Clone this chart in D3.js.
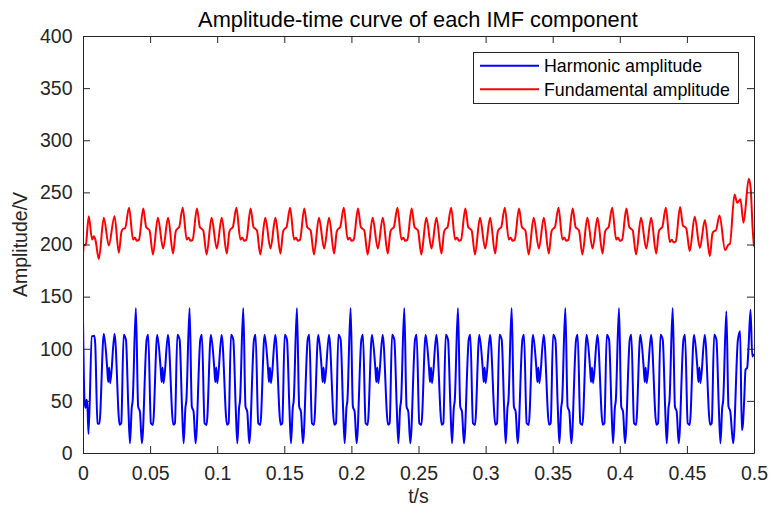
<!DOCTYPE html>
<html>
<head>
<meta charset="utf-8">
<script src="https://cdn.jsdelivr.net/npm/d3@7"></script>
<style>
  html, body { margin: 0; padding: 0; background: #fff; }
  svg { display: block; font-family: "Liberation Sans", Arial, sans-serif; }
</style>
</head>
<body>
<svg id="chart" width="770" height="511"></svg>
<script>
  // ============================================================
  // Data
  // ============================================================

  const xTicks = [0, 0.05, 0.1, 0.15, 0.2, 0.25, 0.3, 0.35, 0.4, 0.45, 0.5];
  const xTickLabels = ["0", "0.05", "0.1", "0.15", "0.2", "0.25", "0.3", "0.35", "0.4", "0.45", "0.5"];
  const yTicks = [0, 50, 100, 150, 200, 250, 300, 350, 400];
  const yTickLabels = ["0", "50", "100", "150", "200", "250", "300", "350", "400"];
  const seriesNames = ["Harmonic amplitude", "Fundamental amplitude"];

  // [t (s), amplitude (V)] at the turning points of each curve
  const harmonic = [
    [0,128.5],[0.0011,51],[0.0019,43.3],[0.0027,51],[0.0034,43],[0.0041,18.3],[0.0066,111.9],[0.0084,112.5],[0.0091,105],[0.0108,28.5],[0.0122,28],[0.0155,114.5],[0.0180,82],[0.0188,68],[0.0195,82],[0.0203,67],[0.0235,114.5],[0.0273,27],[0.0285,28.5],[0.0303,113.5],[0.0320,108.6],[0.0338,43.3],[0.0350,9.3],[0.0363,43.3],[0.0370,50],
    [0.0394,139],[0.0411,44.5],[0.0424,39.7],[0.0439,9.3],[0.0474,108.6],[0.0486,113.5],[0.0506,28.5],[0.0521,26.9],[0.0553,113.5],[0.0578,82],[0.0586,68],[0.0593,82],[0.0601,67],[0.0633,113.5],[0.0673,27],[0.0685,28.5],[0.0703,113.5],[0.0720,108.6],[0.0738,43.3],[0.0750,9.3],[0.0763,43.3],[0.0770,50],
    [0.0794,139],[0.0811,44.5],[0.0824,39.7],[0.0839,9.3],[0.0874,108.6],[0.0886,113.5],[0.0906,28.5],[0.0921,26.9],[0.0953,113.5],[0.0978,82],[0.0986,68],[0.0993,82],[0.1001,67],[0.1033,113.5],[0.1073,27],[0.1085,28.5],[0.1103,113.5],[0.1120,108.6],[0.1138,43.3],[0.1150,9.3],[0.1163,43.3],[0.1170,50],
    [0.1194,139],[0.1211,44.5],[0.1224,39.7],[0.1239,9.3],[0.1274,108.6],[0.1286,113.5],[0.1306,28.5],[0.1321,26.9],[0.1353,113.5],[0.1378,82],[0.1386,68],[0.1393,82],[0.1401,67],[0.1433,113.5],[0.1473,27],[0.1485,28.5],[0.1503,113.5],[0.1520,108.6],[0.1538,43.3],[0.1550,9.3],[0.1563,43.3],[0.1570,50],
    [0.1594,139],[0.1611,44.5],[0.1624,39.7],[0.1639,9.3],[0.1674,108.6],[0.1686,113.5],[0.1706,28.5],[0.1721,26.9],[0.1753,113.5],[0.1778,82],[0.1786,68],[0.1793,82],[0.1801,67],[0.1833,113.5],[0.1873,27],[0.1885,28.5],[0.1903,113.5],[0.1920,108.6],[0.1938,43.3],[0.1950,9.3],[0.1963,43.3],[0.1970,50],
    [0.1994,139],[0.2011,44.5],[0.2024,39.7],[0.2039,9.3],[0.2074,108.6],[0.2086,113.5],[0.2106,28.5],[0.2121,26.9],[0.2153,113.5],[0.2178,82],[0.2186,68],[0.2193,82],[0.2201,67],[0.2233,113.5],[0.2273,27],[0.2285,28.5],[0.2303,113.5],[0.2320,108.6],[0.2338,43.3],[0.2350,9.3],[0.2363,43.3],[0.2370,50],
    [0.2394,139],[0.2411,44.5],[0.2424,39.7],[0.2439,9.3],[0.2474,108.6],[0.2486,113.5],[0.2506,28.5],[0.2521,26.9],[0.2553,113.5],[0.2578,82],[0.2586,68],[0.2593,82],[0.2601,67],[0.2633,113.5],[0.2673,27],[0.2685,28.5],[0.2703,113.5],[0.2720,108.6],[0.2738,43.3],[0.2750,9.3],[0.2763,43.3],[0.2770,50],
    [0.2794,139],[0.2811,44.5],[0.2824,39.7],[0.2839,9.3],[0.2874,108.6],[0.2886,113.5],[0.2906,28.5],[0.2921,26.9],[0.2953,113.5],[0.2978,82],[0.2986,68],[0.2993,82],[0.3001,67],[0.3033,113.5],[0.3073,27],[0.3085,28.5],[0.3103,113.5],[0.3120,108.6],[0.3138,43.3],[0.3150,9.3],[0.3163,43.3],[0.3170,50],
    [0.3194,139],[0.3211,44.5],[0.3224,39.7],[0.3239,9.3],[0.3274,108.6],[0.3286,113.5],[0.3306,28.5],[0.3321,26.9],[0.3353,113.5],[0.3378,82],[0.3386,68],[0.3393,82],[0.3401,67],[0.3433,113.5],[0.3473,27],[0.3485,28.5],[0.3503,113.5],[0.3520,108.6],[0.3538,43.3],[0.3550,9.3],[0.3563,43.3],[0.3570,50],
    [0.3594,139],[0.3611,44.5],[0.3624,39.7],[0.3639,9.3],[0.3674,108.6],[0.3686,113.5],[0.3706,28.5],[0.3721,26.9],[0.3753,113.5],[0.3778,82],[0.3786,68],[0.3793,82],[0.3801,67],[0.3833,113.5],[0.3873,27],[0.3885,28.5],[0.3903,113.5],[0.3920,108.6],[0.3938,43.3],[0.3950,9.3],[0.3963,43.3],[0.3970,50],
    [0.3994,139],[0.4011,44.5],[0.4024,39.7],[0.4039,9.3],[0.4074,108.6],[0.4086,113.5],[0.4106,28.5],[0.4121,26.9],[0.4153,113.5],[0.4178,82],[0.4186,68],[0.4193,82],[0.4201,67],[0.4233,113.5],[0.4273,27],[0.4285,28.5],[0.4303,113.5],[0.4320,108.6],[0.4338,43.3],[0.4350,9.3],[0.4363,43.3],[0.4370,50],
    [0.4394,139],[0.4411,44.5],[0.4424,39.7],[0.4439,9.3],[0.4474,108.6],[0.4486,113.5],[0.4506,28.5],[0.4521,26.9],[0.4553,113.5],[0.4578,82],[0.4586,68],[0.4593,82],[0.4601,67],[0.4633,113.5],[0.4673,27],[0.4685,28.5],[0.4703,113.5],[0.4720,108.6],[0.4738,43.3],[0.4750,9.3],[0.4763,43.3],[0.4770,50],
    [0.4794,136],[0.4810,44.5],[0.4823,40],[0.4845,9.3],[0.4880,108.6],[0.4897,116.7],[0.4909,22],[0.4917,27],[0.4927,51],[0.4937,80],[0.4949,81.7],[0.4959,100.6],[0.4974,137.5],[0.4987,92.6],[0.5,95]
  ];

  const fundamental = [
    [0,191],[0.0006,199],[0.0021,200],[0.0043,227.2],[0.0068,204.8],[0.0081,208],[0.0093,204.2],[0.0118,186.2],[0.0155,225.6],[0.0192,199.1],[0.0235,227.2],[0.0267,192],[0.0287,212.5],[0.0300,215.1],[0.0314,215.7],
    [0.0343,235.3],[0.0373,204.8],[0.0387,206.5],[0.0402,203.5],[0.0417,204.5],[0.0449,234.6],[0.0471,216.5],[0.0484,215],[0.0496,213.5],[0.0521,190.4],[0.0558,225.6],[0.0597,196.2],[0.0634,225.6],[0.0671,191.3],[0.0691,212.5],[0.0703,215.1],[0.0716,216.5],
    [0.0743,235.3],[0.0773,204.8],[0.0787,206.5],[0.0802,203.5],[0.0817,204.5],[0.0849,234.6],[0.0871,216.5],[0.0884,215],[0.0896,213.5],[0.0921,190.4],[0.0958,225.6],[0.0997,196.2],[0.1034,225.6],[0.1071,191.3],[0.1091,212.5],[0.1103,215.1],[0.1116,216.5],
    [0.1143,235.3],[0.1173,204.8],[0.1187,206.5],[0.1202,203.5],[0.1217,204.5],[0.1249,234.6],[0.1271,216.5],[0.1284,215],[0.1296,213.5],[0.1321,190.4],[0.1358,225.6],[0.1397,196.2],[0.1434,225.6],[0.1471,191.3],[0.1491,212.5],[0.1503,215.1],[0.1516,216.5],
    [0.1543,235.3],[0.1573,204.8],[0.1587,206.5],[0.1602,203.5],[0.1617,204.5],[0.1649,234.6],[0.1671,216.5],[0.1684,215],[0.1696,213.5],[0.1721,190.4],[0.1758,225.6],[0.1797,196.2],[0.1834,225.6],[0.1871,191.3],[0.1891,212.5],[0.1903,215.1],[0.1916,216.5],
    [0.1943,235.3],[0.1973,204.8],[0.1987,206.5],[0.2002,203.5],[0.2017,204.5],[0.2049,234.6],[0.2071,216.5],[0.2084,215],[0.2096,213.5],[0.2121,190.4],[0.2158,225.6],[0.2197,196.2],[0.2234,225.6],[0.2271,191.3],[0.2291,212.5],[0.2303,215.1],[0.2316,216.5],
    [0.2343,235.3],[0.2373,204.8],[0.2387,206.5],[0.2402,203.5],[0.2417,204.5],[0.2449,234.6],[0.2471,216.5],[0.2484,215],[0.2496,213.5],[0.2521,190.4],[0.2558,225.6],[0.2597,196.2],[0.2634,225.6],[0.2671,191.3],[0.2691,212.5],[0.2703,215.1],[0.2716,216.5],
    [0.2743,235.3],[0.2773,204.8],[0.2787,206.5],[0.2802,203.5],[0.2817,204.5],[0.2849,234.6],[0.2871,216.5],[0.2884,215],[0.2896,213.5],[0.2921,190.4],[0.2958,225.6],[0.2997,196.2],[0.3034,225.6],[0.3071,191.3],[0.3091,212.5],[0.3103,215.1],[0.3116,216.5],
    [0.3143,235.3],[0.3173,204.8],[0.3187,206.5],[0.3202,203.5],[0.3217,204.5],[0.3249,234.6],[0.3271,216.5],[0.3284,215],[0.3296,213.5],[0.3321,190.4],[0.3358,225.6],[0.3397,196.2],[0.3434,225.6],[0.3471,191.3],[0.3491,212.5],[0.3503,215.1],[0.3516,216.5],
    [0.3543,235.3],[0.3573,204.8],[0.3587,206.5],[0.3602,203.5],[0.3617,204.5],[0.3649,234.6],[0.3671,216.5],[0.3684,215],[0.3696,213.5],[0.3721,190.4],[0.3758,225.6],[0.3797,196.2],[0.3834,225.6],[0.3871,191.3],[0.3891,212.5],[0.3903,215.1],[0.3916,216.5],
    [0.3943,235.3],[0.3973,204.8],[0.3987,206.5],[0.4002,203.5],[0.4017,204.5],[0.4049,234.6],[0.4071,216.5],[0.4084,215],[0.4096,213.5],[0.4121,190.4],[0.4158,225.6],[0.4197,196.2],[0.4234,225.6],[0.4271,191.3],[0.4291,212.5],[0.4303,215.1],[0.4316,216.5],
    [0.4343,235.3],[0.4373,202.5],[0.4387,204.5],[0.4402,202],[0.4417,203],[0.4449,235.9],[0.4471,218],[0.4484,217],[0.4496,215],[0.4521,193.6],[0.4558,226.6],[0.4597,196.8],[0.4634,223.4],[0.4671,188.8],[0.4691,211],[0.4703,212.8],[0.4716,213.5],
    [0.4743,227.9],[0.4785,194.6],[0.4810,200],[0.4820,200.5],[0.4855,248],[0.4875,240],[0.4899,243.3],[0.4922,220.8],[0.4961,263.1],[0.4975,254],[0.4990,215],[0.5,198]
  ];

  // ============================================================
  // Chart
  // ============================================================

  const svg = d3.select("#chart");
  const svgW = +svg.attr("width"), svgH = +svg.attr("height");
  const margin = { top: 36, right: 16, bottom: 58, left: 83 };
  const w = svgW - margin.left - margin.right;
  const h = svgH - margin.top - margin.bottom;
  const axisColor = "#262626";
  const fontSize = 19.5;

  svg.append("rect").attr("width", svgW).attr("height", svgH).attr("fill", "#fff");

  const g = svg.append("g").attr("transform", `translate(${margin.left},${margin.top})`);

  const x = d3.scaleLinear().domain([0, 0.5]).range([0, w]);
  const y = d3.scaleLinear().domain([0, 400]).range([h, 0]);

  // Curves
  g.append("clipPath").attr("id", "plot-clip")
    .append("rect").attr("x", 0).attr("y", 0).attr("width", w).attr("height", h);

  const line = d3.line()
    .x(d => x(d[0]))
    .y(d => y(d[1]))
    .curve(d3.curveMonotoneX);

  const curves = g.append("g").attr("clip-path", "url(#plot-clip)");
  curves.append("path").datum(harmonic)
    .attr("d", line).attr("fill", "none")
    .attr("stroke", "#0000ff").attr("stroke-width", 2).attr("stroke-linejoin", "round");
  curves.append("path").datum(fundamental)
    .attr("d", line).attr("fill", "none")
    .attr("stroke", "#ff0000").attr("stroke-width", 2).attr("stroke-linejoin", "round");

  // Axes (box with inward ticks on all four sides)
  const xAxis = g.append("g").attr("transform", `translate(0,${h})`)
    .call(d3.axisBottom(x).tickValues(xTicks).tickFormat((d, i) => xTickLabels[i])
      .tickSizeInner(-7).tickSizeOuter(0).tickPadding(13));
  const xTop = g.append("g")
    .call(d3.axisTop(x).tickValues(xTicks).tickFormat("").tickSizeInner(-7).tickSizeOuter(0));
  const yAxis = g.append("g")
    .call(d3.axisLeft(y).tickValues(yTicks).tickFormat((d, i) => yTickLabels[i])
      .tickSizeInner(-7).tickSizeOuter(0).tickPadding(10.5));
  const yRight = g.append("g").attr("transform", `translate(${w},0)`)
    .call(d3.axisRight(y).tickValues(yTicks).tickFormat("").tickSizeInner(-7).tickSizeOuter(0));

  [xAxis, xTop, yAxis, yRight].forEach(a => {
    a.attr("font-family", null).attr("font-size", null);
    a.selectAll(".domain").attr("stroke", axisColor);
    a.selectAll(".tick line").attr("stroke", axisColor);
    a.selectAll("text").attr("fill", axisColor).attr("font-size", fontSize);
  });

  // Title and axis labels
  svg.append("text").attr("x", 418).attr("y", 26.5)
    .attr("text-anchor", "middle").attr("fill", "#000").attr("font-size", 21.8)
    .text("Amplitude-time curve of each IMF component");

  svg.append("text").attr("x", margin.left + w / 2).attr("y", 503)
    .attr("text-anchor", "middle").attr("fill", axisColor).attr("font-size", fontSize)
    .text("t/s");

  svg.append("text")
    .attr("transform", `translate(27,${margin.top + h / 2}) rotate(-90)`)
    .attr("text-anchor", "middle").attr("fill", axisColor).attr("font-size", fontSize)
    .text("Amplitude/V");

  // Legend
  const legend = svg.append("g").attr("transform", "translate(473.5,52.5)");
  legend.append("rect").attr("width", 265).attr("height", 51)
    .attr("fill", "#fff").attr("stroke", axisColor).attr("stroke-width", 1);

  const legendColors = ["#0000ff", "#ff0000"];
  seriesNames.forEach((name, i) => {
    const ly = 13.2 + i * 23.6;
    legend.append("line").attr("x1", 6.5).attr("x2", 65.5).attr("y1", ly).attr("y2", ly)
      .attr("stroke", legendColors[i]).attr("stroke-width", 2);
    legend.append("text").attr("x", 70.5).attr("y", ly).attr("dy", "0.35em")
      .attr("fill", "#000").attr("font-size", 17.8)
      .text(name);
  });
</script>
</body>
</html>
